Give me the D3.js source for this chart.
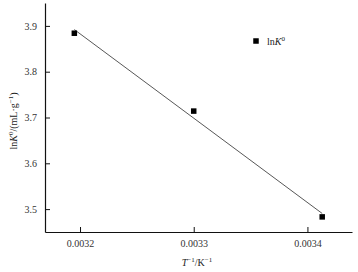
<!DOCTYPE html>
<html>
<head>
<meta charset="utf-8">
<script src="https://cdn.jsdelivr.net/npm/d3@7"></script>
<style>
  body { margin: 0; background: #fff; }
  svg { display: block; font-family: "Liberation Serif", "DejaVu Serif", serif; }
</style>
</head>
<body>
<svg id="chart" width="358" height="272"></svg>
<script>
// data
const invT = [0.003195, 0.003300, 0.003413];
const lnK0 = [3.884, 3.714, 3.483];
const xTicks = [0.0032, 0.0033, 0.0034];
const yTicks = [3.5, 3.6, 3.7, 3.8, 3.9];

const svg = d3.select("#chart");
const margin = { top: 3, right: 6, bottom: 40, left: 45 };
const width = +svg.attr("width") - margin.left - margin.right;
const height = +svg.attr("height") - margin.top - margin.bottom;

const chart = svg.append("g")
    .attr("transform", `translate(${margin.left},${margin.top})`);

const x = d3.scaleLinear().domain([0.0031692, 0.0034392]).range([0, width]);
const y = d3.scaleLinear().domain([3.45, 3.95]).range([height, 0]);

// axes, ticks pointing inward
const xAxis = chart.append("g")
    .attr("transform", `translate(0,${height})`)
    .call(d3.axisBottom(x).tickValues(xTicks).tickFormat(d3.format(".4f"))
        .tickSizeInner(-5).tickSizeOuter(0).tickPadding(8));
const yAxis = chart.append("g")
    .call(d3.axisLeft(y).tickValues(yTicks).tickFormat(d3.format(".1f"))
        .tickSizeInner(-5).tickSizeOuter(0).tickPadding(8));

[xAxis, yAxis].forEach(a => {
    a.select(".domain").attr("stroke", "#111").attr("stroke-width", 1.2);
    a.selectAll(".tick line").attr("stroke", "#111").attr("stroke-width", 1);
    a.selectAll(".tick text").attr("fill", "#333")
        .style("font-family", "Liberation Serif").style("font-size", "10px");
});

// least squares line through the points
const pts = invT.map((v, i) => ({ x: v, y: lnK0[i] }));
const mx = d3.mean(pts, d => d.x), my = d3.mean(pts, d => d.y);
const slope = d3.sum(pts, d => (d.x - mx) * (d.y - my)) / d3.sum(pts, d => (d.x - mx) ** 2);
const x0 = d3.min(invT), x1 = d3.max(invT);
chart.append("line")
    .attr("x1", x(x0)).attr("y1", y(my + slope * (x0 - mx)))
    .attr("x2", x(x1)).attr("y2", y(my + slope * (x1 - mx)))
    .attr("stroke", "#444")
    .attr("stroke-width", 0.9);

// points
const sz = 5.5;
chart.selectAll("rect.pt")
    .data(pts)
    .enter()
    .append("rect")
    .attr("class", "pt")
    .attr("x", d => x(d.x) - sz / 2)
    .attr("y", d => y(d.y) - sz / 2)
    .attr("width", sz)
    .attr("height", sz)
    .attr("fill", "#000");

// legend
const leg = svg.append("g").attr("transform", "translate(256,41)");
leg.append("rect").attr("x", -2.75).attr("y", -2.75).attr("width", sz).attr("height", sz).attr("fill", "#000");
const legText = leg.append("text").attr("x", 11).attr("y", 3.5)
    .attr("fill", "#222").style("font-size", "10px");
legText.append("tspan").text("ln");
legText.append("tspan").style("font-style", "italic").text("K");
legText.append("tspan").attr("baseline-shift", "super").style("font-size", "7px").text("0");

// axis titles
const xt = svg.append("text")
    .attr("text-anchor", "middle")
    .attr("x", 197)
    .attr("y", 266)
    .attr("fill", "#222")
    .style("font-size", "10px");
xt.append("tspan").style("font-style", "italic").text("T");
xt.append("tspan").attr("baseline-shift", "super").style("font-size", "7px").text("\u22121");
xt.append("tspan").text("/K");
xt.append("tspan").attr("baseline-shift", "super").style("font-size", "7px").text("\u22121");

const yt = svg.append("text")
    .attr("text-anchor", "middle")
    .attr("transform", "translate(17,121) rotate(-90)")
    .attr("fill", "#222")
    .style("font-size", "10px");
yt.append("tspan").text("ln");
yt.append("tspan").style("font-style", "italic").text("K");
yt.append("tspan").attr("baseline-shift", "super").style("font-size", "7px").text("0");
yt.append("tspan").text("/(mL\u00b7g");
yt.append("tspan").attr("baseline-shift", "super").style("font-size", "7px").text("\u22121");
yt.append("tspan").text(")");
</script>
</body>
</html>
